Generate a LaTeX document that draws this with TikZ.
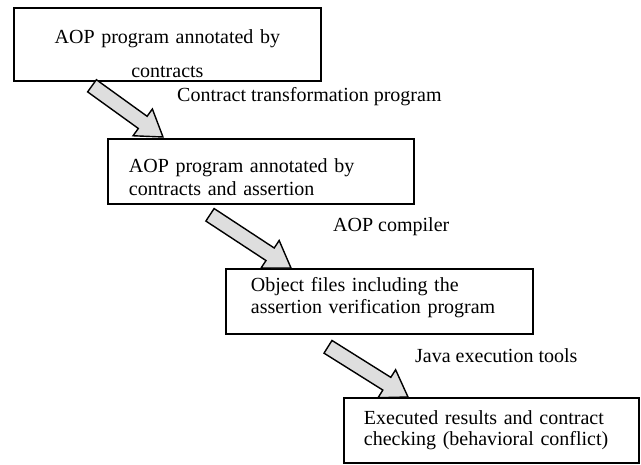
\documentclass[tikz,border=0pt]{standalone}
\usepackage{fontspec}
\setmainfont{Liberation Serif}
\usetikzlibrary{calc}
\definecolor{arrowgray}{RGB}{222,222,222}
\tikzset{
  box/.style={draw=black, line width=1.8pt, fill=white, anchor=north west, inner ysep=0pt},
  lbl/.style={anchor=base west, inner sep=0pt, font=\fontsize{20}{23}\selectfont},
  blockarrow/.style={draw=black, line width=1.4pt, fill=arrowgray, line join=miter},
}
\newcommand{\blockarrowdraw}[1]{%
  \coordinate (#1b) at ($(#1h)!25pt!(#1t)$);
  \draw[blockarrow]
    ($(#1t)!7.5pt!90:(#1h)$) -- ($(#1b)!7.5pt!90:(#1h)$) -- ($(#1b)!16.5pt!90:(#1h)$)
    -- (#1h) -- ($(#1b)!16.5pt!-90:(#1h)$) -- ($(#1b)!7.5pt!-90:(#1h)$)
    -- ($(#1t)!7.5pt!-90:(#1h)$) -- cycle;}
\begin{document}
\begin{tikzpicture}[x=1pt,y=-1pt]
\fill[white] (0,0) rectangle (641,464);
\useasboundingbox (0,0) rectangle (641,464);

\node[box, text width=307pt, inner xsep=0pt, align=center, text height=36pt, text depth=37pt,
      font=\fontsize{20}{34}\selectfont] (b1) at (13,7) {AOP program annotated by\\contracts};
\node[box, text width=264pt, inner xsep=21pt, align=left, text height=34pt, text depth=31pt,
      font=\fontsize{20}{23}\selectfont] (b2) at (107,138) {AOP program annotated by\\contracts and assertion};
\node[box, text width=257pt, inner xsep=25pt, align=left, text height=23pt, text depth=42pt,
      font=\fontsize{20}{22}\selectfont] (b3) at (225,268) {Object files including the\\assertion verification program};
\node[box, text width=255pt, inner xsep=20pt, align=left, text height=27pt, text depth=38pt,
      font=\fontsize{20}{21}\selectfont] (b4) at (343,397) {Executed results and contract\\checking (behavioral conflict)};

\node[lbl] (l1) at (177,101) {Contract transformation program};
\node[lbl] (l2) at (333,231) {AOP compiler};
\node[lbl] (l3) at (415,362) {Java execution tools};

\coordinate (a1t) at ($(b1.south west)+(79,4)$);
\coordinate (a1h) at ($(b2.north west)+(56,-1)$);
\coordinate (a2t) at ($(b2.south west)+(103,10)$);
\coordinate (a2h) at ($(b3.north west)+(66,0)$);
\coordinate (a3t) at ($(b3.south west)+(103,12)$);
\coordinate (a3h) at ($(b4.north west)+(65,0)$);
\blockarrowdraw{a1}
\blockarrowdraw{a2}
\blockarrowdraw{a3}
\end{tikzpicture}
\end{document}
